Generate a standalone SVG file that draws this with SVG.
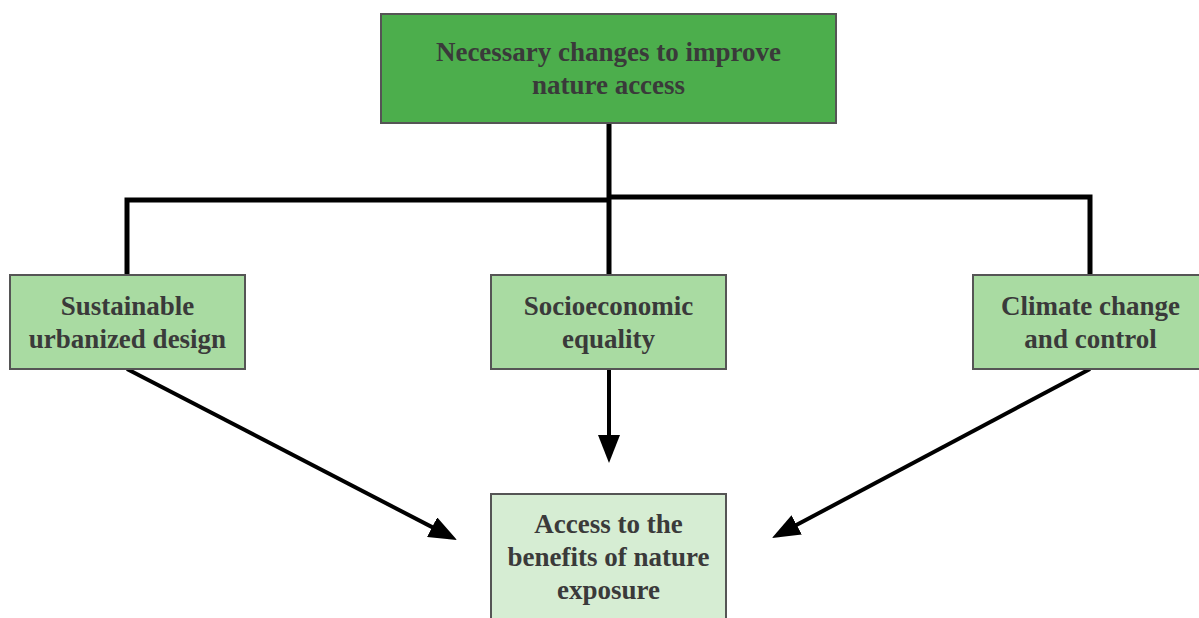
<svg xmlns="http://www.w3.org/2000/svg" width="1199" height="618" viewBox="0 0 1199 618">
  <style>
    .box { stroke: #555555; stroke-width: 2; }
    .top { fill: #4cae4c; }
    .mid { fill: #a9dba2; }
    .end { fill: #d6edd3; }
    .label { font-family: "Liberation Serif", "Times New Roman", serif; font-weight: bold; font-size: 27px; fill: #3a3a3a; text-anchor: middle; }
    .tree { fill: none; stroke: #000000; stroke-width: 5; }
    .arrow { fill: none; stroke: #000000; stroke-width: 4; marker-end: url(#head); }
  </style>
  <defs>
    <marker id="head" markerUnits="userSpaceOnUse" markerWidth="28" markerHeight="22" refX="18" refY="11" orient="auto">
      <path d="M0,0 L28,11 L0,22 z" fill="#000000"/>
    </marker>
  </defs>
  <rect width="1199" height="618" fill="#ffffff"/>

  <g id="connectors">
    <path class="tree" d="M609,123 V275"/>
    <path class="tree" d="M127,275 V200 H609"/>
    <path class="tree" d="M609,197 H1090 V275"/>
    <path class="arrow" d="M127,369 L448.1,535.4"/>
    <path class="arrow" d="M609,369 L609,453"/>
    <path class="arrow" d="M1090,369 L780.8,533.3"/>
  </g>

  <g id="node-changes">
    <rect class="box top" x="381" y="14" width="455" height="109"/>
    <text class="label" x="608.5" y="61">Necessary changes to improve</text>
    <text class="label" x="608.5" y="94">nature access</text>
  </g>

  <g id="node-design">
    <rect class="box mid" x="10" y="275" width="235" height="94"/>
    <text class="label" x="127.5" y="315">Sustainable</text>
    <text class="label" x="127.5" y="348">urbanized design</text>
  </g>

  <g id="node-equality">
    <rect class="box mid" x="491" y="275" width="235" height="94"/>
    <text class="label" x="608.5" y="315">Socioeconomic</text>
    <text class="label" x="608.5" y="348">equality</text>
  </g>

  <g id="node-climate">
    <rect class="box mid" x="973" y="275" width="235" height="94"/>
    <text class="label" x="1090.5" y="315">Climate change</text>
    <text class="label" x="1090.5" y="348">and control</text>
  </g>

  <g id="node-access">
    <rect class="box end" x="491" y="494" width="235" height="140"/>
    <text class="label" x="608.5" y="533">Access to the</text>
    <text class="label" x="608.5" y="566">benefits of nature</text>
    <text class="label" x="608.5" y="599">exposure</text>
  </g>
</svg>
